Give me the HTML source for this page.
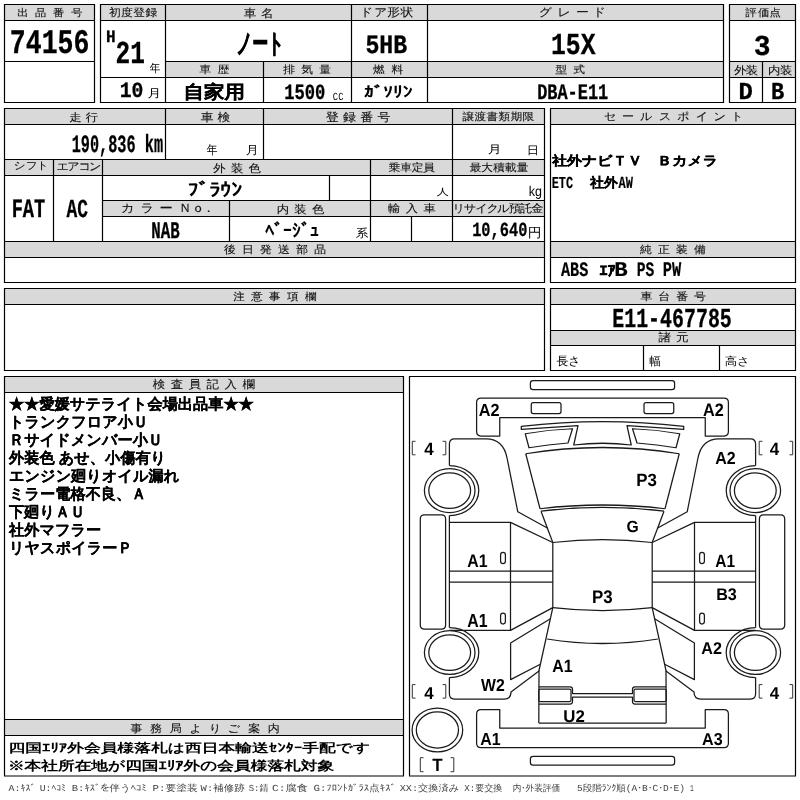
<!DOCTYPE html>
<html lang="ja"><head><meta charset="utf-8"><title>auction sheet</title>
<style>html,body{margin:0;padding:0;background:#fff;}svg{display:block;will-change:transform;font-family:"Liberation Sans",sans-serif;}</style>
</head><body>
<svg width="800" height="800" viewBox="0 0 800 800" text-rendering="geometricPrecision">
<rect width="800" height="800" fill="#fff"/>
<rect x="5" y="5" width="89" height="15" fill="#d9d9d9"/>
<rect x="101" y="5" width="622" height="15" fill="#d9d9d9"/>
<rect x="166" y="62" width="557" height="15" fill="#d9d9d9"/>
<rect x="730" y="5" width="65" height="15" fill="#d9d9d9"/>
<rect x="730" y="62" width="65" height="15" fill="#d9d9d9"/>
<rect x="5" y="109" width="539" height="15" fill="#d9d9d9"/>
<rect x="5" y="160" width="539" height="15" fill="#d9d9d9"/>
<rect x="103" y="201" width="441" height="15" fill="#d9d9d9"/>
<rect x="5" y="242" width="539" height="15" fill="#d9d9d9"/>
<rect x="5" y="289" width="539" height="15" fill="#d9d9d9"/>
<rect x="551" y="109" width="244" height="15" fill="#d9d9d9"/>
<rect x="551" y="242" width="244" height="15" fill="#d9d9d9"/>
<rect x="551" y="289" width="244" height="15" fill="#d9d9d9"/>
<rect x="551" y="331" width="244" height="14" fill="#d9d9d9"/>
<rect x="5" y="377" width="398" height="15" fill="#d9d9d9"/>
<rect x="5" y="720" width="398" height="15" fill="#d9d9d9"/>
<path d="M4.5 4.5L94.5 4.5 M4.5 102.5L94.5 102.5 M4.5 4.5L4.5 102.5 M94.5 4.5L94.5 102.5 M4.5 20.5L94.5 20.5 M4.5 61.5L94.5 61.5 M100.5 4.5L723.5 4.5 M100.5 102.5L723.5 102.5 M100.5 4.5L100.5 102.5 M723.5 4.5L723.5 102.5 M100.5 20.5L723.5 20.5 M165.5 61.5L723.5 61.5 M100.5 77.5L723.5 77.5 M165.5 4.5L165.5 102.5 M351.5 4.5L351.5 102.5 M427.5 4.5L427.5 102.5 M263.5 61.5L263.5 102.5 M729.5 4.5L795.5 4.5 M729.5 102.5L795.5 102.5 M729.5 4.5L729.5 102.5 M795.5 4.5L795.5 102.5 M729.5 20.5L795.5 20.5 M729.5 61.5L795.5 61.5 M729.5 77.5L795.5 77.5 M762.5 61.5L762.5 102.5 M4.5 108.5L544.5 108.5 M4.5 282.5L544.5 282.5 M4.5 108.5L4.5 282.5 M544.5 108.5L544.5 282.5 M4.5 124.5L544.5 124.5 M4.5 159.5L544.5 159.5 M4.5 175.5L544.5 175.5 M102.5 200.5L544.5 200.5 M102.5 216.5L544.5 216.5 M4.5 241.5L544.5 241.5 M4.5 257.5L544.5 257.5 M165.5 108.5L165.5 159.5 M263.5 108.5L263.5 159.5 M452.5 108.5L452.5 241.5 M53.5 159.5L53.5 241.5 M102.5 159.5L102.5 241.5 M370.5 159.5L370.5 241.5 M329.5 175.5L329.5 200.5 M229.5 200.5L229.5 241.5 M411.5 216.5L411.5 241.5 M4.5 288.5L544.5 288.5 M4.5 370.5L544.5 370.5 M4.5 288.5L4.5 370.5 M544.5 288.5L544.5 370.5 M4.5 304.5L544.5 304.5 M550.5 108.5L795.5 108.5 M550.5 282.5L795.5 282.5 M550.5 108.5L550.5 282.5 M795.5 108.5L795.5 282.5 M550.5 124.5L795.5 124.5 M550.5 241.5L795.5 241.5 M550.5 257.5L795.5 257.5 M550.5 288.5L795.5 288.5 M550.5 370.5L795.5 370.5 M550.5 288.5L550.5 370.5 M795.5 288.5L795.5 370.5 M550.5 304.5L795.5 304.5 M550.5 330.5L795.5 330.5 M550.5 345.5L795.5 345.5 M643.5 345.5L643.5 370.5 M719.5 345.5L719.5 370.5 M4.5 376.5L403.5 376.5 M4.5 776L403.5 776 M4.5 376.5L4.5 776 M403.5 376.5L403.5 776 M4.5 392.5L403.5 392.5 M4.5 719.5L403.5 719.5 M4.5 735.5L403.5 735.5 M409.5 376.5L795.5 376.5 M409.5 776L795.5 776 M409.5 376.5L409.5 776 M795.5 376.5L795.5 776" stroke="#000" stroke-width="1.2" fill="none" stroke-linecap="square"/>
<g fill="none" stroke="#1a1a1a" stroke-width="1.25" stroke-linejoin="round">
<g><path d="M449.4 465.6 L449.4 444 Q449.4 438.75 454.6 438.75 L486 438.75 C498 438.75 505 446 507.2 458.75 L517.8 511.8 L547.3 528"/><path d="M449.4 465.6 A29.4 25 0 0 1 449.4 515.6"/><path d="M449.4 627.6 A29.4 25 0 0 1 449.4 677.6"/><path d="M449.4 515.6 L449.4 627.6"/><path d="M449.4 522.4 L510.5 522.4 L552.8 542.5"/><path d="M510.5 522.4 L510.5 630.4"/><path d="M449.4 571 L552.8 571"/><path d="M449.4 582 L552.8 582"/><path d="M449.4 630.4 L510.5 630.4 L552.8 607.6"/><path d="M552.8 542.5 L552.8 607.6 L539 670.5 L538.8 723"/><path d="M525.75 453.75 L540 508.75"/><path d="M541 511.2 L552.8 542.5"/><path d="M550.4 618.7 L510.6 643 L510.6 679.6 L540.3 664.2"/><path d="M539.3 670.7 L511 691.9 Q511 699 504 699 L454.5 699 Q449.4 699 449.4 694 L449.4 677.6"/><path d="M525.25 433.75 Q549 429.5 572.5 428.75 L568 443 Q548 444.5 529 447.75 Z"/><path d="M424.4 514.8 L441.5 514.8 Q445.6 514.8 445.6 518.9 L445.6 624.9 Q445.6 629 441.5 629 L424.4 629 Q420.3 629 420.3 624.9 L420.3 518.9 Q420.3 514.8 424.4 514.8 Z"/><path d="M500.6 554.8 Q500.6 552.4 503 552.4 Q505.4 552.4 505.4 554.8 L505.4 561.2 Q505.4 563.6 503 563.6 Q500.6 563.6 500.6 561.2 Z"/><path d="M500.6 615.4 Q500.6 613 503 613 Q505.4 613 505.4 615.4 L505.4 621.6 Q505.4 624 503 624 Q500.6 624 500.6 621.6 Z"/><path d="M540.3 689 L569.5 689 Q571 689 571 690.5 L571 700 Q571 701.5 569.5 701.5 L540.3 701.5 Q538.8 701.5 538.8 700 L538.8 690.5 Q538.8 689 540.3 689 Z"/><path d="M533.25 402.6 L559 402.6 Q561 402.6 561 404.6 L561 411.6 Q561 413.6 559 413.6 L533.25 413.6 Q531.25 413.6 531.25 411.6 L531.25 404.6 Q531.25 402.6 533.25 402.6 Z"/><ellipse cx="449.7" cy="490.6" rx="25.3" ry="21.9"/><ellipse cx="449.7" cy="490.6" rx="20.9" ry="17.8"/><ellipse cx="449.7" cy="652.6" rx="25.3" ry="21.9"/><ellipse cx="449.7" cy="652.6" rx="20.9" ry="17.8"/></g><g transform="translate(1205,0) scale(-1,1)"><path d="M449.4 465.6 L449.4 444 Q449.4 438.75 454.6 438.75 L486 438.75 C498 438.75 505 446 507.2 458.75 L517.8 511.8 L547.3 528"/><path d="M449.4 465.6 A29.4 25 0 0 1 449.4 515.6"/><path d="M449.4 627.6 A29.4 25 0 0 1 449.4 677.6"/><path d="M449.4 515.6 L449.4 627.6"/><path d="M449.4 522.4 L510.5 522.4 L552.8 542.5"/><path d="M510.5 522.4 L510.5 630.4"/><path d="M449.4 571 L552.8 571"/><path d="M449.4 582 L552.8 582"/><path d="M449.4 630.4 L510.5 630.4 L552.8 607.6"/><path d="M552.8 542.5 L552.8 607.6 L539 670.5 L538.8 723"/><path d="M525.75 453.75 L540 508.75"/><path d="M541 511.2 L552.8 542.5"/><path d="M550.4 618.7 L510.6 643 L510.6 679.6 L540.3 664.2"/><path d="M539.3 670.7 L511 691.9 Q511 699 504 699 L454.5 699 Q449.4 699 449.4 694 L449.4 677.6"/><path d="M525.25 433.75 Q549 429.5 572.5 428.75 L568 443 Q548 444.5 529 447.75 Z"/><path d="M424.4 514.8 L441.5 514.8 Q445.6 514.8 445.6 518.9 L445.6 624.9 Q445.6 629 441.5 629 L424.4 629 Q420.3 629 420.3 624.9 L420.3 518.9 Q420.3 514.8 424.4 514.8 Z"/><path d="M500.6 554.8 Q500.6 552.4 503 552.4 Q505.4 552.4 505.4 554.8 L505.4 561.2 Q505.4 563.6 503 563.6 Q500.6 563.6 500.6 561.2 Z"/><path d="M500.6 615.4 Q500.6 613 503 613 Q505.4 613 505.4 615.4 L505.4 621.6 Q505.4 624 503 624 Q500.6 624 500.6 621.6 Z"/><path d="M540.3 689 L569.5 689 Q571 689 571 690.5 L571 700 Q571 701.5 569.5 701.5 L540.3 701.5 Q538.8 701.5 538.8 700 L538.8 690.5 Q538.8 689 540.3 689 Z"/><path d="M533.25 402.6 L559 402.6 Q561 402.6 561 404.6 L561 411.6 Q561 413.6 559 413.6 L533.25 413.6 Q531.25 413.6 531.25 411.6 L531.25 404.6 Q531.25 402.6 533.25 402.6 Z"/><ellipse cx="449.7" cy="490.6" rx="25.3" ry="21.9"/><ellipse cx="449.7" cy="490.6" rx="20.9" ry="17.8"/><ellipse cx="449.7" cy="652.6" rx="25.3" ry="21.9"/><ellipse cx="449.7" cy="652.6" rx="20.9" ry="17.8"/></g>
<path d="M533 380.6 L672 380.6 Q674.6 380.6 674.6 383.2 L674.6 386.9 Q674.6 389.5 672 389.5 L533 389.5 Q530.4 389.5 530.4 386.9 L530.4 383.2 Q530.4 380.6 533 380.6 Z"/><path d="M533 756.3 L672 756.3 Q674.6 756.3 674.6 758.9 L674.6 762.5 Q674.6 765.1 672 765.1 L533 765.1 Q530.4 765.1 530.4 762.5 L530.4 758.9 Q530.4 756.3 533 756.3 Z"/><path d="M499.75 436 L481 436 Q476.6 436 476.6 431.6 L476.6 402.6 Q476.6 398.2 481 398.2 L724 398.2 Q728.4 398.2 728.4 402.6 L728.4 431.6 Q728.4 436 724 436 L705.25 436 L705.25 417.5 L499.75 417.5 Z"/><path d="M499.75 709.6 L481 709.6 Q476.6 709.6 476.6 714 L476.6 743.2 Q476.6 747.6 481 747.6 L724 747.6 Q728.4 747.6 728.4 743.2 L728.4 714 Q728.4 709.6 724 709.6 L705.25 709.6 L705.25 728 L499.75 728 Z"/><path d="M521.3 426.3 Q602.5 416.7 683.7 426.3 L683.7 429.4 L627 425.6 L631.25 445 Q602.5 441.5 573.75 445 L578 425.6 L521.3 429.4 Z"/><path d="M525.75 453.75 Q602.5 441.25 679.25 453.75"/><path d="M540 508.75 Q602.5 501.25 665 508.75"/><path d="M541 511.2 Q602.5 503.5 664 511.2"/><path d="M552.8 542.5 Q602.5 536.5 652.2 542.5"/><path d="M552.8 607.6 Q602.5 613.5 652.2 607.6"/><path d="M547.1 639 Q602.5 648 657.9 639"/><path d="M538.8 686.8 L570 686.8 Q572.5 686.8 572.5 689.3 L572.5 693.5 L632.5 693.5 L632.5 689.3 Q632.5 686.8 635 686.8 L666.2 686.8"/><path d="M538.8 704 L570 704 Q572.5 704 572.5 701.5 L572.5 697.2 L632.5 697.2 L632.5 701.5 Q632.5 704 635 704 L666.2 704"/><path d="M538.8 723 L666.2 723"/>
<ellipse cx="437.4" cy="730" rx="25.3" ry="21.9"/><ellipse cx="437.4" cy="730" rx="21.1" ry="18.1"/>
</g>
<path d="M415.5 441.3 L412.3 441.3 L412.3 454.8 L415.5 454.8 M442.6 441.3 L445.8 441.3 L445.8 454.8 L442.6 454.8" fill="none" stroke="#333" stroke-width="1"/>
<path d="M415.5 684.6 L412.3 684.6 L412.3 698.1 L415.5 698.1 M442.6 684.6 L445.8 684.6 L445.8 698.1 L442.6 698.1" fill="none" stroke="#333" stroke-width="1"/>
<path d="M762.4000000000001 441.3 L759.2 441.3 L759.2 454.8 L762.4000000000001 454.8 M789.5 441.3 L792.7 441.3 L792.7 454.8 L789.5 454.8" fill="none" stroke="#333" stroke-width="1"/>
<path d="M762.4000000000001 684.6 L759.2 684.6 L759.2 698.1 L762.4000000000001 698.1 M789.5 684.6 L792.7 684.6 L792.7 698.1 L789.5 698.1" fill="none" stroke="#333" stroke-width="1"/>
<path d="M423.5 757.7 L420.3 757.7 L420.3 771.7 L423.5 771.7 M450.6 757.7 L453.8 757.7 L453.8 771.7 L450.6 771.7" fill="none" stroke="#333" stroke-width="1"/>
<text transform="translate(9.84,52.67) scale(0.7669,1)" font-size="34.59" font-weight="bold" fill="#000" font-family="Liberation Mono" stroke="#000" stroke-width="0.3">74156</text>
<text transform="translate(106.00,42.20) scale(0.9381,1)" font-size="17.06" font-weight="bold" fill="#000" font-family="Liberation Mono" stroke="#000" stroke-width="0.3">H</text>
<text transform="translate(115.47,63.40) scale(0.7642,1)" font-size="32.00" font-weight="bold" fill="#000" font-family="Liberation Mono" stroke="#000" stroke-width="0.3">21</text>
<text transform="translate(149.77,72.41) scale(0.9239,1)" font-size="11.51" font-weight="normal" fill="#000">年</text>
<text transform="translate(119.77,97.23) scale(0.9118,1)" font-size="21.63" font-weight="bold" fill="#000" font-family="Liberation Mono" stroke="#000" stroke-width="0.3">10</text>
<text transform="translate(147.52,97.48) scale(1.1999,1)" font-size="11.38" font-weight="normal" fill="#000">月</text>
<text transform="translate(236.44,51.63) scale(0.6025,1)" font-size="25.94" font-weight="bold" fill="#000" stroke="#000" stroke-width="1.0">ノート</text>
<text transform="translate(183.43,98.47) scale(1.1381,1)" font-size="18.05" font-weight="bold" fill="#000" stroke="#000" stroke-width="0.25">自家用</text>
<text transform="translate(284.13,98.83) scale(0.7926,1)" font-size="21.63" font-weight="bold" fill="#000" font-family="Liberation Mono" stroke="#000" stroke-width="0.3">1500</text>
<text transform="translate(332.86,99.86) scale(0.8044,1)" font-size="10.96" font-weight="normal" fill="#000" font-family="Liberation Mono">CC</text>
<text transform="translate(365.44,52.67) scale(0.8744,1)" font-size="26.52" font-weight="bold" fill="#000" font-family="Liberation Mono" stroke="#000" stroke-width="0.3">5HB</text>
<text transform="translate(363.91,96.56) scale(1.2968,1)" font-size="15.01" font-weight="bold" fill="#000">ｶﾞｿﾘﾝ</text>
<text transform="translate(551.06,54.22) scale(0.8090,1)" font-size="30.52" font-weight="bold" fill="#000" font-family="Liberation Mono" stroke="#000" stroke-width="0.3">15X</text>
<text transform="translate(537.14,98.50) scale(0.7629,1)" font-size="22.19" font-weight="bold" fill="#000" font-family="Liberation Mono" stroke="#000" stroke-width="0.3">DBA-E11</text>
<text transform="translate(753.70,54.84) scale(0.9692,1)" font-size="28.89" font-weight="bold" fill="#000" font-family="Liberation Mono" stroke="#000" stroke-width="0.3">3</text>
<text transform="translate(738.40,99.10) scale(0.9815,1)" font-size="24.45" font-weight="bold" fill="#000" font-family="Liberation Mono" stroke="#000" stroke-width="0.3">D</text>
<text transform="translate(771.02,99.10) scale(0.9017,1)" font-size="24.45" font-weight="bold" fill="#000" font-family="Liberation Mono" stroke="#000" stroke-width="0.3">B</text>
<text transform="translate(71.70,151.54) scale(0.6119,1)" font-size="24.89" font-weight="bold" fill="#000" font-family="Liberation Mono" stroke="#000" stroke-width="0.3">190,836 km</text>
<text transform="translate(206.87,153.61) scale(0.8709,1)" font-size="12.33" font-weight="normal" fill="#000">年</text>
<text transform="translate(245.75,153.55) scale(1.1172,1)" font-size="11.61" font-weight="normal" fill="#000">月</text>
<text transform="translate(487.70,153.41) scale(1.2489,1)" font-size="11.15" font-weight="normal" fill="#000">月</text>
<text transform="translate(526.86,153.62) scale(1.1136,1)" font-size="11.04" font-weight="normal" fill="#000">日</text>
<text transform="translate(187.64,196.15) scale(1.1820,1)" font-size="18.41" font-weight="bold" fill="#000">ﾌﾞﾗｳﾝ</text>
<text transform="translate(436.39,195.42) scale(1.3553,1)" font-size="9.17" font-weight="normal" fill="#000">人</text>
<text transform="translate(528.82,195.89) scale(0.8923,1)" font-size="14.05" font-weight="normal" fill="#000">kg</text>
<text transform="translate(11.67,217.25) scale(0.7067,1)" font-size="26.42" font-weight="bold" fill="#000" font-family="Liberation Mono" stroke="#000" stroke-width="0.3">FAT</text>
<text transform="translate(66.50,216.93) scale(0.6894,1)" font-size="25.93" font-weight="bold" fill="#000" font-family="Liberation Mono" stroke="#000" stroke-width="0.3">AC</text>
<text transform="translate(151.27,238.25) scale(0.6620,1)" font-size="23.77" font-weight="bold" fill="#000" font-family="Liberation Mono" stroke="#000" stroke-width="0.3">NAB</text>
<text transform="translate(265.18,237.23) scale(0.9612,1)" font-size="18.63" font-weight="bold" fill="#000">ﾍﾞｰｼﾞｭ</text>
<text transform="translate(355.68,237.07) scale(1.1009,1)" font-size="11.47" font-weight="normal" fill="#000">系</text>
<text transform="translate(472.14,236.49) scale(0.7646,1)" font-size="20.06" font-weight="bold" fill="#000" font-family="Liberation Mono" stroke="#000" stroke-width="0.3">10,640</text>
<text transform="translate(527.63,236.87) scale(1.0493,1)" font-size="13.07" font-weight="normal" fill="#000">円</text>
<text transform="translate(552.19,165.28) scale(1.1652,1)" font-size="12.80" font-weight="bold" fill="#000" stroke="#000" stroke-width="0.35">社外ナビＴＶ　Ｂカメラ</text>
<text transform="translate(551.66,188.19) scale(0.7081,1)" font-size="16.74" font-weight="bold" fill="#000" font-family="Liberation Mono" stroke="#000" stroke-width="0.2">ETC</text>
<text transform="translate(590.17,187.00) scale(1.0311,1)" font-size="13.30" font-weight="bold" fill="#000" stroke="#000" stroke-width="0.3">社外</text>
<text transform="translate(618.60,188.40) scale(0.7035,1)" font-size="17.06" font-weight="bold" fill="#000" font-family="Liberation Mono" stroke="#000" stroke-width="0.2">AW</text>
<text transform="translate(560.90,276.14) scale(0.7438,1)" font-size="20.44" font-weight="bold" fill="#000" font-family="Liberation Mono" stroke="#000" stroke-width="0.2">ABS</text>
<text transform="translate(599.50,275.63) scale(1.0408,1)" font-size="15.48" font-weight="bold" fill="#000" stroke="#000" stroke-width="0.2">ｴｱ</text>
<text transform="translate(614.21,276.40) scale(1.0679,1)" font-size="20.83" font-weight="bold" fill="#000" font-family="Liberation Mono" stroke="#000" stroke-width="0.2">B</text>
<text transform="translate(636.69,276.14) scale(0.7159,1)" font-size="20.44" font-weight="bold" fill="#000" font-family="Liberation Mono" stroke="#000" stroke-width="0.2">PS</text>
<text transform="translate(662.84,276.40) scale(0.7386,1)" font-size="20.83" font-weight="bold" fill="#000" font-family="Liberation Mono" stroke="#000" stroke-width="0.2">PW</text>
<text transform="translate(612.25,326.86) scale(0.7269,1)" font-size="27.41" font-weight="bold" fill="#000" font-family="Liberation Mono" stroke="#000" stroke-width="0.3">E11-467785</text>
<text transform="translate(556.45,365.26) scale(0.9949,1)" font-size="11.89" font-weight="normal" fill="#000">長さ</text>
<text transform="translate(649.26,365.29) scale(0.9943,1)" font-size="11.73" font-weight="normal" fill="#000">幅</text>
<text transform="translate(724.68,365.37) scale(1.1160,1)" font-size="11.14" font-weight="normal" fill="#000">高さ</text>
<text transform="translate(8.57,752.26) scale(1.3752,1)" font-size="12.19" font-weight="bold" fill="#000">四国ｴﾘｱ外会員様落札は西日本輸送ｾﾝﾀｰ手配です</text>
<text transform="translate(7.91,769.66) scale(1.3028,1)" font-size="12.82" font-weight="bold" fill="#000">※本社所在地が四国ｴﾘｱ外の会員様落札対象</text>
<text transform="translate(478.84,415.50) scale(0.9308,1)" font-size="17.50" font-weight="bold" fill="#000">A2</text>
<text transform="translate(702.99,415.60) scale(0.9026,1)" font-size="18.00" font-weight="bold" fill="#000">A2</text>
<text transform="translate(715.20,463.70) scale(0.9106,1)" font-size="17.57" font-weight="bold" fill="#000">A2</text>
<text transform="translate(636.34,486.38) scale(0.9550,1)" font-size="17.68" font-weight="bold" fill="#000">P3</text>
<text transform="translate(626.41,532.40) scale(0.9646,1)" font-size="16.28" font-weight="bold" fill="#000">G</text>
<text transform="translate(467.20,566.60) scale(0.8641,1)" font-size="18.33" font-weight="bold" fill="#000">A1</text>
<text transform="translate(715.31,566.70) scale(0.8740,1)" font-size="17.75" font-weight="bold" fill="#000">A1</text>
<text transform="translate(591.94,602.77) scale(0.9256,1)" font-size="18.25" font-weight="bold" fill="#000">P3</text>
<text transform="translate(467.20,627.00) scale(0.8375,1)" font-size="18.91" font-weight="bold" fill="#000">A1</text>
<text transform="translate(716.19,600.29) scale(0.9601,1)" font-size="16.84" font-weight="bold" fill="#000">B3</text>
<text transform="translate(701.30,654.40) scale(0.9460,1)" font-size="17.00" font-weight="bold" fill="#000">A2</text>
<text transform="translate(552.20,672.00) scale(0.8934,1)" font-size="17.82" font-weight="bold" fill="#000">A1</text>
<text transform="translate(481.00,690.65) scale(0.9100,1)" font-size="17.36" font-weight="bold" fill="#000">W2</text>
<text transform="translate(563.25,721.69) scale(0.9923,1)" font-size="16.98" font-weight="bold" fill="#000">U2</text>
<text transform="translate(480.20,745.10) scale(0.9045,1)" font-size="17.60" font-weight="bold" fill="#000">A1</text>
<text transform="translate(702.10,744.58) scale(0.9316,1)" font-size="17.26" font-weight="bold" fill="#000">A3</text>
<text transform="translate(424.19,454.75) scale(0.9502,1)" font-size="17.82" font-weight="bold" fill="#000">4</text>
<text transform="translate(424.19,698.75) scale(0.9822,1)" font-size="17.24" font-weight="bold" fill="#000">4</text>
<text transform="translate(769.79,454.75) scale(0.9502,1)" font-size="17.82" font-weight="bold" fill="#000">4</text>
<text transform="translate(769.79,698.75) scale(0.9822,1)" font-size="17.24" font-weight="bold" fill="#000">4</text>
<text transform="translate(432.29,771.25) scale(0.9553,1)" font-size="17.82" font-weight="bold" fill="#000">T</text>
<text transform="translate(8.55,790.70) scale(1.0815,1)" font-size="9.20" font-weight="normal" fill="#444" font-family="Liberation Mono">A:ｷｽﾞ</text>
<text transform="translate(39.77,790.70) scale(1.0550,1)" font-size="9.20" font-weight="normal" fill="#444" font-family="Liberation Mono">U:ﾍｺﾐ</text>
<text transform="translate(71.71,790.70) scale(1.1507,1)" font-size="9.20" font-weight="normal" fill="#444" font-family="Liberation Mono">B:ｷｽﾞを伴うﾍｺﾐ</text>
<text transform="translate(152.59,790.70) scale(1.1696,1)" font-size="9.20" font-weight="normal" fill="#444" font-family="Liberation Mono">P:要塗装</text>
<text transform="translate(200.60,790.70) scale(1.1429,1)" font-size="9.20" font-weight="normal" fill="#444" font-family="Liberation Mono">W:補修跡</text>
<text transform="translate(248.66,790.70) scale(0.9770,1)" font-size="9.20" font-weight="normal" fill="#444" font-family="Liberation Mono">S:錆</text>
<text transform="translate(272.04,790.70) scale(1.2237,1)" font-size="9.20" font-weight="normal" fill="#444" font-family="Liberation Mono">C:腐食</text>
<text transform="translate(313.46,790.70) scale(1.1648,1)" font-size="9.20" font-weight="normal" fill="#444" font-family="Liberation Mono">G:ﾌﾛﾝﾄｶﾞﾗｽ点ｷｽﾞ</text>
<text transform="translate(399.74,790.70) scale(1.1107,1)" font-size="9.20" font-weight="normal" fill="#444" font-family="Liberation Mono">XX:交換済み</text>
<text transform="translate(464.27,790.70) scale(0.9881,1)" font-size="9.20" font-weight="normal" fill="#444" font-family="Liberation Mono">X:要交換</text>
<text transform="translate(512.64,790.70) scale(0.9408,1)" font-size="9.20" font-weight="normal" fill="#444" font-family="Liberation Mono">内･外装評価</text>
<text transform="translate(577.00,790.70) scale(1.0394,1)" font-size="9.20" font-weight="normal" fill="#444" font-family="Liberation Mono">5段階ﾗﾝｸ順(A･B･C･D･E)</text>
<text transform="translate(689.93,790.70) scale(0.6865,1)" font-size="9.20" font-weight="normal" fill="#444" font-family="Liberation Mono">1</text>
<text transform="translate(17.30,16.25) scale(1.12,1)" font-size="10.00" font-weight="normal" fill="#111" stroke="#111" stroke-width="0.12">出</text>
<text transform="translate(34.99,16.25) scale(1.12,1)" font-size="10.00" font-weight="normal" fill="#111" stroke="#111" stroke-width="0.12">品</text>
<text transform="translate(53.11,16.25) scale(1.12,1)" font-size="10.00" font-weight="normal" fill="#111" stroke="#111" stroke-width="0.12">番</text>
<text transform="translate(71.22,16.25) scale(1.12,1)" font-size="10.00" font-weight="normal" fill="#111" stroke="#111" stroke-width="0.12">号</text>
<text transform="translate(109.05,16.18) scale(1.12,1)" font-size="10.56" font-weight="normal" fill="#111" stroke="#111" stroke-width="0.12">初</text>
<text transform="translate(120.93,16.18) scale(1.12,1)" font-size="10.56" font-weight="normal" fill="#111" stroke="#111" stroke-width="0.12">度</text>
<text transform="translate(133.26,16.18) scale(1.12,1)" font-size="10.56" font-weight="normal" fill="#111" stroke="#111" stroke-width="0.12">登</text>
<text transform="translate(145.51,16.18) scale(1.12,1)" font-size="10.56" font-weight="normal" fill="#111" stroke="#111" stroke-width="0.12">録</text>
<text transform="translate(243.74,16.84) scale(1.12,1)" font-size="11.20" font-weight="normal" fill="#111" stroke="#111" stroke-width="0.12">車</text>
<text transform="translate(261.09,16.84) scale(1.12,1)" font-size="11.20" font-weight="normal" fill="#111" stroke="#111" stroke-width="0.12">名</text>
<text transform="translate(359.98,16.49) scale(1.12,1)" font-size="11.38" font-weight="normal" fill="#111" stroke="#111" stroke-width="0.12">ド</text>
<text transform="translate(374.21,16.49) scale(1.12,1)" font-size="11.38" font-weight="normal" fill="#111" stroke="#111" stroke-width="0.12">ア</text>
<text transform="translate(387.24,16.49) scale(1.12,1)" font-size="11.38" font-weight="normal" fill="#111" stroke="#111" stroke-width="0.12">形</text>
<text transform="translate(400.44,16.49) scale(1.12,1)" font-size="11.38" font-weight="normal" fill="#111" stroke="#111" stroke-width="0.12">状</text>
<text transform="translate(538.71,16.06) scale(1.12,1)" font-size="11.51" font-weight="normal" fill="#111" stroke="#111" stroke-width="0.12">グ</text>
<text transform="translate(557.47,16.06) scale(1.12,1)" font-size="11.51" font-weight="normal" fill="#111" stroke="#111" stroke-width="0.12">レ</text>
<text transform="translate(575.98,16.06) scale(1.12,1)" font-size="11.51" font-weight="normal" fill="#111" stroke="#111" stroke-width="0.12">ー</text>
<text transform="translate(592.72,16.06) scale(1.12,1)" font-size="11.51" font-weight="normal" fill="#111" stroke="#111" stroke-width="0.12">ド</text>
<text transform="translate(745.46,16.15) scale(1.12,1)" font-size="10.13" font-weight="normal" fill="#111" stroke="#111" stroke-width="0.12">評</text>
<text transform="translate(757.92,16.15) scale(1.12,1)" font-size="10.13" font-weight="normal" fill="#111" stroke="#111" stroke-width="0.12">価</text>
<text transform="translate(769.53,16.15) scale(1.12,1)" font-size="10.13" font-weight="normal" fill="#111" stroke="#111" stroke-width="0.12">点</text>
<text transform="translate(199.61,73.44) scale(1.12,1)" font-size="10.35" font-weight="normal" fill="#111" stroke="#111" stroke-width="0.12">車</text>
<text transform="translate(217.70,73.44) scale(1.12,1)" font-size="10.35" font-weight="normal" fill="#111" stroke="#111" stroke-width="0.12">歴</text>
<text transform="translate(283.15,72.95) scale(1.12,1)" font-size="10.53" font-weight="normal" fill="#111" stroke="#111" stroke-width="0.12">排</text>
<text transform="translate(301.24,72.95) scale(1.12,1)" font-size="10.53" font-weight="normal" fill="#111" stroke="#111" stroke-width="0.12">気</text>
<text transform="translate(319.25,72.95) scale(1.12,1)" font-size="10.53" font-weight="normal" fill="#111" stroke="#111" stroke-width="0.12">量</text>
<text transform="translate(372.95,73.16) scale(1.12,1)" font-size="10.49" font-weight="normal" fill="#111" stroke="#111" stroke-width="0.12">燃</text>
<text transform="translate(391.49,73.16) scale(1.12,1)" font-size="10.49" font-weight="normal" fill="#111" stroke="#111" stroke-width="0.12">料</text>
<text transform="translate(555.61,72.97) scale(1.12,1)" font-size="10.26" font-weight="normal" fill="#111" stroke="#111" stroke-width="0.12">型</text>
<text transform="translate(573.54,72.97) scale(1.12,1)" font-size="10.26" font-weight="normal" fill="#111" stroke="#111" stroke-width="0.12">式</text>
<text transform="translate(734.35,73.62) scale(1.12,1)" font-size="11.05" font-weight="normal" fill="#111" stroke="#111" stroke-width="0.12">外</text>
<text transform="translate(745.84,73.62) scale(1.12,1)" font-size="11.05" font-weight="normal" fill="#111" stroke="#111" stroke-width="0.12">装</text>
<text transform="translate(767.92,73.62) scale(1.12,1)" font-size="11.05" font-weight="normal" fill="#111" stroke="#111" stroke-width="0.12">内</text>
<text transform="translate(780.04,73.62) scale(1.12,1)" font-size="11.05" font-weight="normal" fill="#111" stroke="#111" stroke-width="0.12">装</text>
<text transform="translate(69.29,120.60) scale(1.12,1)" font-size="10.91" font-weight="normal" fill="#111" stroke="#111" stroke-width="0.12">走</text>
<text transform="translate(85.74,120.60) scale(1.12,1)" font-size="10.91" font-weight="normal" fill="#111" stroke="#111" stroke-width="0.12">行</text>
<text transform="translate(200.74,120.67) scale(1.12,1)" font-size="11.42" font-weight="normal" fill="#111" stroke="#111" stroke-width="0.12">車</text>
<text transform="translate(217.60,120.67) scale(1.12,1)" font-size="11.42" font-weight="normal" fill="#111" stroke="#111" stroke-width="0.12">検</text>
<text transform="translate(325.68,120.55) scale(1.12,1)" font-size="11.58" font-weight="normal" fill="#111" stroke="#111" stroke-width="0.12">登</text>
<text transform="translate(342.96,120.55) scale(1.12,1)" font-size="11.58" font-weight="normal" fill="#111" stroke="#111" stroke-width="0.12">録</text>
<text transform="translate(360.24,120.55) scale(1.12,1)" font-size="11.58" font-weight="normal" fill="#111" stroke="#111" stroke-width="0.12">番</text>
<text transform="translate(377.52,120.55) scale(1.12,1)" font-size="11.58" font-weight="normal" fill="#111" stroke="#111" stroke-width="0.12">号</text>
<text transform="translate(462.56,119.83) scale(1.12,1)" font-size="10.30" font-weight="normal" fill="#111" stroke="#111" stroke-width="0.12">譲</text>
<text transform="translate(474.60,119.83) scale(1.12,1)" font-size="10.30" font-weight="normal" fill="#111" stroke="#111" stroke-width="0.12">渡</text>
<text transform="translate(486.49,119.83) scale(1.12,1)" font-size="10.30" font-weight="normal" fill="#111" stroke="#111" stroke-width="0.12">書</text>
<text transform="translate(498.46,119.83) scale(1.12,1)" font-size="10.30" font-weight="normal" fill="#111" stroke="#111" stroke-width="0.12">類</text>
<text transform="translate(510.86,119.83) scale(1.12,1)" font-size="10.30" font-weight="normal" fill="#111" stroke="#111" stroke-width="0.12">期</text>
<text transform="translate(522.40,119.83) scale(1.12,1)" font-size="10.30" font-weight="normal" fill="#111" stroke="#111" stroke-width="0.12">限</text>
<text transform="translate(13.68,169.44) scale(1.12,1)" font-size="10.45" font-weight="normal" fill="#111" stroke="#111" stroke-width="0.12">シ</text>
<text transform="translate(25.77,169.44) scale(1.12,1)" font-size="10.45" font-weight="normal" fill="#111" stroke="#111" stroke-width="0.12">フ</text>
<text transform="translate(36.68,169.44) scale(1.12,1)" font-size="10.45" font-weight="normal" fill="#111" stroke="#111" stroke-width="0.12">ト</text>
<text transform="translate(56.59,169.94) scale(1.12,1)" font-size="10.87" font-weight="normal" fill="#111" stroke="#111" stroke-width="0.12">エ</text>
<text transform="translate(67.28,169.94) scale(1.12,1)" font-size="10.87" font-weight="normal" fill="#111" stroke="#111" stroke-width="0.12">ア</text>
<text transform="translate(78.58,169.94) scale(1.12,1)" font-size="10.87" font-weight="normal" fill="#111" stroke="#111" stroke-width="0.12">コ</text>
<text transform="translate(88.89,169.94) scale(1.12,1)" font-size="10.87" font-weight="normal" fill="#111" stroke="#111" stroke-width="0.12">ン</text>
<text transform="translate(213.35,171.62) scale(1.12,1)" font-size="11.05" font-weight="normal" fill="#111" stroke="#111" stroke-width="0.12">外</text>
<text transform="translate(230.89,171.62) scale(1.12,1)" font-size="11.05" font-weight="normal" fill="#111" stroke="#111" stroke-width="0.12">装</text>
<text transform="translate(248.43,171.62) scale(1.12,1)" font-size="11.05" font-weight="normal" fill="#111" stroke="#111" stroke-width="0.12">色</text>
<text transform="translate(388.56,171.42) scale(1.12,1)" font-size="10.53" font-weight="normal" fill="#111" stroke="#111" stroke-width="0.12">乗</text>
<text transform="translate(400.13,171.42) scale(1.12,1)" font-size="10.53" font-weight="normal" fill="#111" stroke="#111" stroke-width="0.12">車</text>
<text transform="translate(411.85,171.42) scale(1.12,1)" font-size="10.53" font-weight="normal" fill="#111" stroke="#111" stroke-width="0.12">定</text>
<text transform="translate(422.90,171.42) scale(1.12,1)" font-size="10.53" font-weight="normal" fill="#111" stroke="#111" stroke-width="0.12">員</text>
<text transform="translate(469.71,171.07) scale(1.12,1)" font-size="10.39" font-weight="normal" fill="#111" stroke="#111" stroke-width="0.12">最</text>
<text transform="translate(481.35,171.07) scale(1.12,1)" font-size="10.39" font-weight="normal" fill="#111" stroke="#111" stroke-width="0.12">大</text>
<text transform="translate(493.29,171.07) scale(1.12,1)" font-size="10.39" font-weight="normal" fill="#111" stroke="#111" stroke-width="0.12">積</text>
<text transform="translate(505.08,171.07) scale(1.12,1)" font-size="10.39" font-weight="normal" fill="#111" stroke="#111" stroke-width="0.12">載</text>
<text transform="translate(516.80,171.07) scale(1.12,1)" font-size="10.39" font-weight="normal" fill="#111" stroke="#111" stroke-width="0.12">量</text>
<text transform="translate(121.08,211.77) scale(1.12,1)" font-size="11.82" font-weight="normal" fill="#111" stroke="#111" stroke-width="0.12">カ</text>
<text transform="translate(140.51,211.77) scale(1.12,1)" font-size="11.82" font-weight="normal" fill="#111" stroke="#111" stroke-width="0.12">ラ</text>
<text transform="translate(159.38,211.77) scale(1.12,1)" font-size="11.82" font-weight="normal" fill="#111" stroke="#111" stroke-width="0.12">ー</text>
<text transform="translate(178.38,211.77) scale(1.12,1)" font-size="11.82" font-weight="normal" fill="#111" stroke="#111" stroke-width="0.12">Ｎ</text>
<text transform="translate(191.38,211.77) scale(1.12,1)" font-size="11.82" font-weight="normal" fill="#111" stroke="#111" stroke-width="0.12">ｏ</text>
<text transform="translate(202.00,211.77) scale(1.12,1)" font-size="11.82" font-weight="normal" fill="#111" stroke="#111" stroke-width="0.12">．</text>
<text transform="translate(276.82,212.72) scale(1.12,1)" font-size="11.05" font-weight="normal" fill="#111" stroke="#111" stroke-width="0.12">内</text>
<text transform="translate(294.37,212.72) scale(1.12,1)" font-size="11.05" font-weight="normal" fill="#111" stroke="#111" stroke-width="0.12">装</text>
<text transform="translate(311.93,212.72) scale(1.12,1)" font-size="11.05" font-weight="normal" fill="#111" stroke="#111" stroke-width="0.12">色</text>
<text transform="translate(388.10,212.36) scale(1.12,1)" font-size="10.94" font-weight="normal" fill="#111" stroke="#111" stroke-width="0.12">輸</text>
<text transform="translate(405.69,212.36) scale(1.12,1)" font-size="10.94" font-weight="normal" fill="#111" stroke="#111" stroke-width="0.12">入</text>
<text transform="translate(423.51,212.36) scale(1.12,1)" font-size="10.94" font-weight="normal" fill="#111" stroke="#111" stroke-width="0.12">車</text>
<text transform="translate(452.39,212.22) scale(1.12,1)" font-size="10.94" font-weight="normal" fill="#111" stroke="#111" stroke-width="0.12">リ</text>
<text transform="translate(463.65,212.22) scale(1.12,1)" font-size="10.94" font-weight="normal" fill="#111" stroke="#111" stroke-width="0.12">サ</text>
<text transform="translate(475.36,212.22) scale(1.12,1)" font-size="10.94" font-weight="normal" fill="#111" stroke="#111" stroke-width="0.12">イ</text>
<text transform="translate(486.47,212.22) scale(1.12,1)" font-size="10.94" font-weight="normal" fill="#111" stroke="#111" stroke-width="0.12">ク</text>
<text transform="translate(497.11,212.22) scale(1.12,1)" font-size="10.94" font-weight="normal" fill="#111" stroke="#111" stroke-width="0.12">ル</text>
<text transform="translate(508.67,212.22) scale(1.12,1)" font-size="10.94" font-weight="normal" fill="#111" stroke="#111" stroke-width="0.12">預</text>
<text transform="translate(520.08,212.22) scale(1.12,1)" font-size="10.94" font-weight="normal" fill="#111" stroke="#111" stroke-width="0.12">託</text>
<text transform="translate(531.26,212.22) scale(1.12,1)" font-size="10.94" font-weight="normal" fill="#111" stroke="#111" stroke-width="0.12">金</text>
<text transform="translate(223.95,252.95) scale(1.12,1)" font-size="10.56" font-weight="normal" fill="#111" stroke="#111" stroke-width="0.12">後</text>
<text transform="translate(241.95,252.95) scale(1.12,1)" font-size="10.56" font-weight="normal" fill="#111" stroke="#111" stroke-width="0.12">日</text>
<text transform="translate(260.03,252.95) scale(1.12,1)" font-size="10.56" font-weight="normal" fill="#111" stroke="#111" stroke-width="0.12">発</text>
<text transform="translate(278.10,252.95) scale(1.12,1)" font-size="10.56" font-weight="normal" fill="#111" stroke="#111" stroke-width="0.12">送</text>
<text transform="translate(296.33,252.95) scale(1.12,1)" font-size="10.56" font-weight="normal" fill="#111" stroke="#111" stroke-width="0.12">部</text>
<text transform="translate(314.26,252.95) scale(1.12,1)" font-size="10.56" font-weight="normal" fill="#111" stroke="#111" stroke-width="0.12">品</text>
<text transform="translate(233.21,300.33) scale(1.12,1)" font-size="10.25" font-weight="normal" fill="#111" stroke="#111" stroke-width="0.12">注</text>
<text transform="translate(251.25,300.33) scale(1.12,1)" font-size="10.25" font-weight="normal" fill="#111" stroke="#111" stroke-width="0.12">意</text>
<text transform="translate(269.08,300.33) scale(1.12,1)" font-size="10.25" font-weight="normal" fill="#111" stroke="#111" stroke-width="0.12">事</text>
<text transform="translate(287.05,300.33) scale(1.12,1)" font-size="10.25" font-weight="normal" fill="#111" stroke="#111" stroke-width="0.12">項</text>
<text transform="translate(304.95,300.33) scale(1.12,1)" font-size="10.25" font-weight="normal" fill="#111" stroke="#111" stroke-width="0.12">欄</text>
<text transform="translate(603.95,120.15) scale(1.12,1)" font-size="10.78" font-weight="normal" fill="#111" stroke="#111" stroke-width="0.12">セ</text>
<text transform="translate(622.03,120.15) scale(1.12,1)" font-size="10.78" font-weight="normal" fill="#111" stroke="#111" stroke-width="0.12">ー</text>
<text transform="translate(640.12,120.15) scale(1.12,1)" font-size="10.78" font-weight="normal" fill="#111" stroke="#111" stroke-width="0.12">ル</text>
<text transform="translate(658.97,120.15) scale(1.12,1)" font-size="10.78" font-weight="normal" fill="#111" stroke="#111" stroke-width="0.12">ス</text>
<text transform="translate(677.13,120.15) scale(1.12,1)" font-size="10.78" font-weight="normal" fill="#111" stroke="#111" stroke-width="0.12">ポ</text>
<text transform="translate(695.82,120.15) scale(1.12,1)" font-size="10.78" font-weight="normal" fill="#111" stroke="#111" stroke-width="0.12">イ</text>
<text transform="translate(713.38,120.15) scale(1.12,1)" font-size="10.78" font-weight="normal" fill="#111" stroke="#111" stroke-width="0.12">ン</text>
<text transform="translate(731.10,120.15) scale(1.12,1)" font-size="10.78" font-weight="normal" fill="#111" stroke="#111" stroke-width="0.12">ト</text>
<text transform="translate(639.95,253.16) scale(1.12,1)" font-size="10.49" font-weight="normal" fill="#111" stroke="#111" stroke-width="0.12">純</text>
<text transform="translate(658.02,253.16) scale(1.12,1)" font-size="10.49" font-weight="normal" fill="#111" stroke="#111" stroke-width="0.12">正</text>
<text transform="translate(675.95,253.16) scale(1.12,1)" font-size="10.49" font-weight="normal" fill="#111" stroke="#111" stroke-width="0.12">装</text>
<text transform="translate(694.09,253.16) scale(1.12,1)" font-size="10.49" font-weight="normal" fill="#111" stroke="#111" stroke-width="0.12">備</text>
<text transform="translate(640.55,300.27) scale(1.12,1)" font-size="10.63" font-weight="normal" fill="#111" stroke="#111" stroke-width="0.12">車</text>
<text transform="translate(658.35,300.27) scale(1.12,1)" font-size="10.63" font-weight="normal" fill="#111" stroke="#111" stroke-width="0.12">台</text>
<text transform="translate(676.14,300.27) scale(1.12,1)" font-size="10.63" font-weight="normal" fill="#111" stroke="#111" stroke-width="0.12">番</text>
<text transform="translate(693.94,300.27) scale(1.12,1)" font-size="10.63" font-weight="normal" fill="#111" stroke="#111" stroke-width="0.12">号</text>
<text transform="translate(658.54,341.29) scale(1.12,1)" font-size="11.26" font-weight="normal" fill="#111" stroke="#111" stroke-width="0.12">諸</text>
<text transform="translate(675.92,341.29) scale(1.12,1)" font-size="11.26" font-weight="normal" fill="#111" stroke="#111" stroke-width="0.12">元</text>
<text transform="translate(152.84,388.33) scale(1.12,1)" font-size="11.14" font-weight="normal" fill="#111" stroke="#111" stroke-width="0.12">検</text>
<text transform="translate(170.79,388.33) scale(1.12,1)" font-size="11.14" font-weight="normal" fill="#111" stroke="#111" stroke-width="0.12">査</text>
<text transform="translate(188.43,388.33) scale(1.12,1)" font-size="11.14" font-weight="normal" fill="#111" stroke="#111" stroke-width="0.12">員</text>
<text transform="translate(206.46,388.33) scale(1.12,1)" font-size="11.14" font-weight="normal" fill="#111" stroke="#111" stroke-width="0.12">記</text>
<text transform="translate(224.49,388.33) scale(1.12,1)" font-size="11.14" font-weight="normal" fill="#111" stroke="#111" stroke-width="0.12">入</text>
<text transform="translate(242.59,388.33) scale(1.12,1)" font-size="11.14" font-weight="normal" fill="#111" stroke="#111" stroke-width="0.12">欄</text>
<text transform="translate(130.45,731.56) scale(1.12,1)" font-size="10.73" font-weight="normal" fill="#111" stroke="#111" stroke-width="0.12">事</text>
<text transform="translate(150.07,731.56) scale(1.12,1)" font-size="10.73" font-weight="normal" fill="#111" stroke="#111" stroke-width="0.12">務</text>
<text transform="translate(169.76,731.56) scale(1.12,1)" font-size="10.73" font-weight="normal" fill="#111" stroke="#111" stroke-width="0.12">局</text>
<text transform="translate(189.60,731.56) scale(1.12,1)" font-size="10.73" font-weight="normal" fill="#111" stroke="#111" stroke-width="0.12">よ</text>
<text transform="translate(208.99,731.56) scale(1.12,1)" font-size="10.73" font-weight="normal" fill="#111" stroke="#111" stroke-width="0.12">り</text>
<text transform="translate(227.63,731.56) scale(1.12,1)" font-size="10.73" font-weight="normal" fill="#111" stroke="#111" stroke-width="0.12">ご</text>
<text transform="translate(248.14,731.56) scale(1.12,1)" font-size="10.73" font-weight="normal" fill="#111" stroke="#111" stroke-width="0.12">案</text>
<text transform="translate(267.68,731.56) scale(1.12,1)" font-size="10.73" font-weight="normal" fill="#111" stroke="#111" stroke-width="0.12">内</text>
<text x="9" y="409.2" font-size="15.2" font-weight="bold" stroke="#000" stroke-width="0.15">★★愛媛サテライト会場出品車★★</text>
<text x="9" y="427.2" font-size="15.2" font-weight="bold" stroke="#000" stroke-width="0.15">トランクフロア小Ｕ</text>
<text x="9" y="445.2" font-size="15.2" font-weight="bold" stroke="#000" stroke-width="0.15">Ｒサイドメンバー小Ｕ</text>
<text x="9" y="463.2" font-size="15.2" font-weight="bold" stroke="#000" stroke-width="0.15">外装色 あせ、小傷有り</text>
<text x="9" y="481.2" font-size="15.2" font-weight="bold" stroke="#000" stroke-width="0.15">エンジン廻りオイル漏れ</text>
<text x="9" y="499.2" font-size="15.2" font-weight="bold" stroke="#000" stroke-width="0.15">ミラー電格不良、Ａ</text>
<text x="9" y="517.2" font-size="15.2" font-weight="bold" stroke="#000" stroke-width="0.15">下廻りＡＵ</text>
<text x="9" y="535.2" font-size="15.2" font-weight="bold" stroke="#000" stroke-width="0.15">社外マフラー</text>
<text x="9" y="553.2" font-size="15.2" font-weight="bold" stroke="#000" stroke-width="0.15">リヤスポイラーＰ</text>
</svg>
</body></html>
